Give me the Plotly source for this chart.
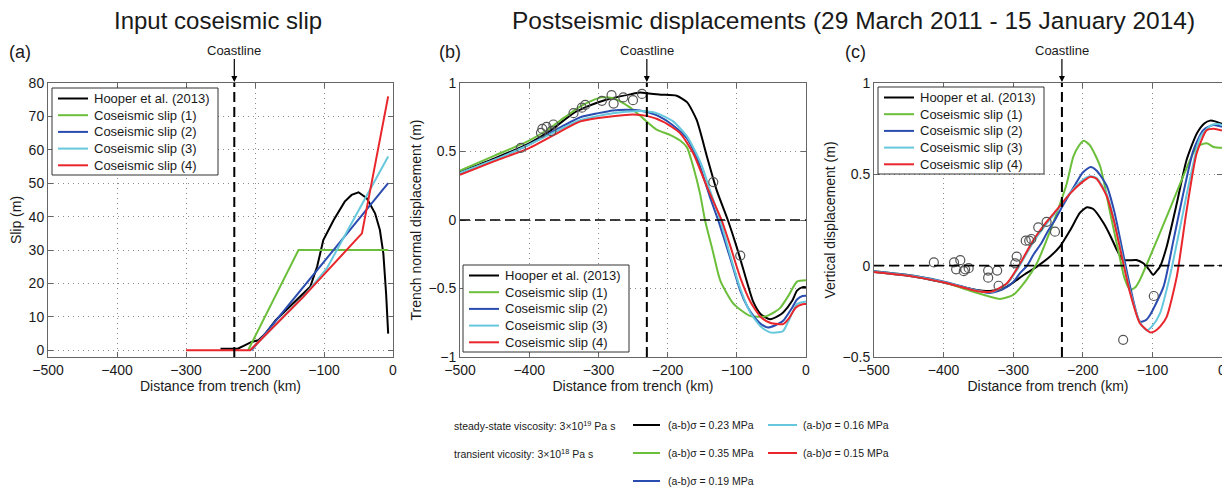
import plotly.graph_objects as go

# ---------------- data ----------------
series_names = ["Hooper et al. (2013)", "Coseismic slip (1)", "Coseismic slip (2)",
                "Coseismic slip (3)", "Coseismic slip (4)"]
series_colors = ["#000000", "#6cbf3b", "#2a4cb0", "#66c8dc", "#e8262b"]
friction_values = ["0.23", "0.35", "0.19", "0.16", "0.15"]  # (a-b)sigma, MPa, same order
coast_km = -230

# (a) input coseismic slip (m)
a_x0 = [-250, -225, -215, -205, -195, -185, -170, -150, -135, -125, -120, -110, -101, -86, -70, -60, -50, -38, -26, -19, -14, -10, -7]
a_y0 = [0.5, 0.5, 1.5, 2.5, 3, 5, 9, 13, 16, 18, 19, 25, 33, 39, 44.5, 46.5, 47.3, 45.5, 41, 36, 29, 17, 5]
a_x1 = [-210, -137, -7]
a_y1 = [0, 30, 30]
a_x2 = [-205, -7]
a_y2 = [0, 50]
a_x3 = [-207, -130, -96, -7]
a_y3 = [0, 16, 24.5, 58]
a_x4 = [-300, -207, -130, -45, -7]
a_y4 = [0, 0, 16, 35, 76]

# (b) trench-normal displacement (m)
b_x0 = [-500, -450, -400, -370, -336, -320, -300, -279, -254, -240, -230, -210, -187, -172, -158, -143, -129, -113, -100, -90, -76, -65, -52, -40, -33, -20, -13, -5, 0]
b_y0 = [0.35, 0.45, 0.56, 0.65, 0.78, 0.82, 0.86, 0.89, 0.917, 0.93, 0.925, 0.915, 0.907, 0.86, 0.73, 0.46, 0.216, 0.0, -0.2, -0.37, -0.6, -0.69, -0.724, -0.70, -0.675, -0.59, -0.516, -0.49, -0.49]
b_x1 = [-500, -450, -400, -375, -350, -326, -310, -295, -280, -270, -254, -235, -216, -196, -182, -172, -163, -153, -146, -135, -124, -105, -81, -60, -45, -37, -25, -13, 0]
b_y1 = [0.36, 0.47, 0.58, 0.655, 0.745, 0.83, 0.87, 0.895, 0.89, 0.87, 0.82, 0.74, 0.66, 0.62, 0.58, 0.53, 0.39, 0.19, 0.0, -0.22, -0.44, -0.61, -0.70, -0.705, -0.67, -0.64, -0.55, -0.45, -0.44]
b_x2 = [-500, -450, -400, -350, -326, -300, -279, -260, -240, -216, -192, -172, -160, -153, -139, -127, -120, -110, -95, -85, -76, -65, -55, -45, -33, -20, -13, -5, 0]
b_y2 = [0.34, 0.44, 0.55, 0.69, 0.75, 0.78, 0.80, 0.805, 0.80, 0.765, 0.69, 0.595, 0.48, 0.39, 0.17, 0.0, -0.11, -0.27, -0.516, -0.63, -0.70, -0.76, -0.785, -0.77, -0.736, -0.64, -0.58, -0.555, -0.553]
b_x3 = [-500, -450, -400, -350, -326, -300, -279, -260, -240, -216, -192, -182, -172, -160, -150, -139, -124, -110, -95, -80, -65, -52, -40, -33, -20, -13, -5, 0]
b_y3 = [0.345, 0.44, 0.55, 0.675, 0.73, 0.76, 0.78, 0.79, 0.795, 0.78, 0.72, 0.67, 0.61, 0.50, 0.39, 0.22, 0.0, -0.25, -0.5, -0.68, -0.78, -0.82, -0.82, -0.81, -0.68, -0.614, -0.6, -0.595]
b_x4 = [-500, -450, -400, -350, -326, -300, -279, -250, -230, -206, -182, -163, -143, -122, -110, -95, -80, -65, -52, -40, -33, -25, -15, -5, 0]
b_y4 = [0.33, 0.43, 0.525, 0.66, 0.72, 0.745, 0.758, 0.77, 0.76, 0.717, 0.634, 0.487, 0.24, 0.0, -0.18, -0.42, -0.6, -0.71, -0.75, -0.76, -0.76, -0.72, -0.64, -0.615, -0.614]
b_obs_x = [-412, -383, -381, -375, -368, -365, -336, -324, -319, -295, -281, -278, -264, -250, -237, -134, -95]
b_obs_y = [0.526, 0.636, 0.665, 0.68, 0.648, 0.697, 0.78, 0.82, 0.84, 0.87, 0.912, 0.85, 0.895, 0.875, 0.92, 0.277, -0.26]

# (c) vertical displacement (m)
c_x0 = [-500, -443, -396, -357, -333, -309, -285, -266, -247, -233, -218, -204, -194, -185, -170, -160, -151, -142, -123, -113, -105, -99, -94, -89, -79.5, -65, -51, -36, -25, -17, -10, 0]
c_y0 = [-0.035, -0.06, -0.096, -0.13, -0.139, -0.115, -0.051, -0.005, 0.05, 0.104, 0.195, 0.29, 0.32, 0.31, 0.232, 0.16, 0.086, 0.031, 0.031, 0.013, -0.02, -0.05, -0.03, -0.005, 0.104, 0.34, 0.577, 0.725, 0.78, 0.794, 0.79, 0.776]
c_x1 = [-500, -443, -400, -360, -333, -319, -300, -281, -266, -252, -237.5, -223, -213.6, -205, -198.6, -190, -175, -160.6, -146, -140, -132, -125, -118, -103.4, -79.5, -55.6, -36.4, -22, -12, 0]
c_y1 = [-0.03, -0.055, -0.09, -0.14, -0.17, -0.182, -0.16, -0.078, 0.013, 0.14, 0.287, 0.45, 0.597, 0.66, 0.684, 0.66, 0.543, 0.287, 0.03, -0.07, -0.133, -0.12, -0.078, 0.05, 0.268, 0.49, 0.65, 0.67, 0.65, 0.645]
c_x2 = [-500, -443, -396, -357, -333, -315, -300, -290, -280, -271, -260, -250, -240, -230, -210, -200, -189, -180, -165.5, -155, -146, -132, -118, -110, -103.4, -84, -69.7, -55.6, -41, -27, -12.6, 0]
c_y2 = [-0.03, -0.055, -0.09, -0.13, -0.15, -0.13, -0.09, -0.04, 0.0, 0.06, 0.12, 0.19, 0.25, 0.32, 0.45, 0.51, 0.54, 0.52, 0.436, 0.3, 0.14, -0.115, -0.306, -0.3, -0.27, -0.115, 0.14, 0.396, 0.633, 0.742, 0.77, 0.76]
c_x3 = [-500, -443, -396, -348, -331, -309, -290, -271, -252, -237.5, -218, -200, -189, -180, -165.5, -155, -146, -132, -118, -108, -100, -89, -75, -60, -45.4, -31, -15, -5, 0]
c_y3 = [-0.033, -0.058, -0.093, -0.14, -0.145, -0.1, 0.005, 0.13, 0.23, 0.3, 0.4, 0.47, 0.49, 0.48, 0.39, 0.25, 0.1, -0.14, -0.31, -0.354, -0.33, -0.26, -0.06, 0.214, 0.487, 0.706, 0.77, 0.775, 0.77]
c_x4 = [-500, -443, -396, -348, -331, -309, -290, -271, -252, -237.5, -218, -200, -189, -180, -165.5, -155, -146, -132, -118, -103.4, -97, -89, -79.5, -65, -50.7, -36.4, -22, -12, 0]
c_y4 = [-0.035, -0.06, -0.095, -0.142, -0.142, -0.096, 0.013, 0.14, 0.24, 0.305, 0.396, 0.46, 0.487, 0.475, 0.38, 0.24, 0.086, -0.15, -0.315, -0.365, -0.36, -0.334, -0.28, -0.06, 0.305, 0.615, 0.742, 0.75, 0.74]
c_obs_x = [-414, -385, -382, -376, -371, -369, -364, -336, -336, -323, -321, -297, -295, -282, -277, -274, -264, -252, -240, -142, -98]
c_obs_y = [0.018, 0.018, -0.02, 0.03, -0.03, -0.02, -0.014, -0.027, -0.066, -0.027, -0.11, 0.013, 0.05, 0.137, 0.137, 0.146, 0.21, 0.24, 0.186, -0.406, -0.166]

a_xs = [a_x0, a_x1, a_x2, a_x3, a_x4]
a_ys = [a_y0, a_y1, a_y2, a_y3, a_y4]
b_xs = [b_x0, b_x1, b_x2, b_x3, b_x4]
b_ys = [b_y0, b_y1, b_y2, b_y3, b_y4]
c_xs = [c_x0, c_x1, c_x2, c_x3, c_x4]
c_ys = [c_y0, c_y1, c_y2, c_y3, c_y4]

# ---------------- figure ----------------
# the page body adds an 8px margin; the figure is sized so it fills the 1230x490 window
OFF = 8
W, H = 1230 - OFF, 490 - OFF
FONT = "Liberation Sans, Arial, sans-serif"
TXT = "#1a1a1a"

fig = go.Figure()

panels = [
    ("x", "y", a_xs, a_ys, "linear"),
    ("x2", "y2", b_xs, b_ys, "spline"),
    ("x3", "y3", c_xs, c_ys, "spline"),
]
for xa, ya, xs, ys, shape in panels:
    for i in range(5):
        line = dict(color=series_colors[i], width=2, shape=shape)
        if shape == "spline":
            line["smoothing"] = 0.6
        fig.add_trace(go.Scatter(x=xs[i], y=ys[i], mode="lines", name=series_names[i],
                                 line=line, xaxis=xa, yaxis=ya, showlegend=False))

for xa, ya, ox, oy in [("x2", "y2", b_obs_x, b_obs_y), ("x3", "y3", c_obs_x, c_obs_y)]:
    fig.add_trace(go.Scatter(x=ox, y=oy, mode="markers", showlegend=False, xaxis=xa, yaxis=ya,
                             name="observed",
                             marker=dict(symbol="circle-open", size=9, color="#555555",
                                         line=dict(width=1.2, color="#555555"))))


def px_x(p):
    return (p - OFF) / W


def px_y(p):
    return 1 - (p - OFF) / H


dom_x = [(48, 393), (460, 806), (874, 1222)]
dom_y = (83, 357)
y_ranges = [[-2, 80], [-1, 1], [-0.5, 1]]
y_ticks = [list(range(0, 81, 10)), [-1, -0.5, 0, 0.5, 1], [-0.5, 0, 0.5, 1]]
y_titles = ["Slip (m)", "Trench normal displacement (m)", "Vertical displacement (m)"]

axis_common = dict(showline=True, linecolor="#666666", linewidth=1, mirror="ticks",
                   ticks="inside", ticklen=5, tickcolor="#666666", automargin=False,
                   showgrid=True, gridcolor="#8c8c8c", griddash="1px,4px", gridwidth=1,
                   zeroline=False, tickfont=dict(family=FONT, size=14, color=TXT))

layout = dict(width=W, height=H, margin=dict(l=0, r=0, t=0, b=0, autoexpand=False),
              paper_bgcolor="white", plot_bgcolor="white", showlegend=False,
              font=dict(family=FONT, color=TXT))
for k in range(3):
    sfx = "" if k == 0 else str(k + 1)
    layout["xaxis" + sfx] = dict(axis_common, domain=[px_x(dom_x[k][0]), px_x(dom_x[k][1])],
                                 range=[-500, 0], tickvals=[-500, -400, -300, -200, -100, 0],
                                 anchor="y" + sfx,
                                 title=dict(text="Distance from trench (km)", standoff=1,
                                            font=dict(family=FONT, size=14, color=TXT)))
    layout["yaxis" + sfx] = dict(axis_common, domain=[px_y(dom_y[1]), px_y(dom_y[0])],
                                 range=y_ranges[k], tickvals=y_ticks[k], anchor="x" + sfx,
                                 title=dict(text=y_titles[k], standoff=3,
                                            font=dict(family=FONT, size=14, color=TXT)))
fig.update_layout(**layout)

shapes = []
annotations = []

# coastline dashed lines and zero lines
for k in range(3):
    sfx = "" if k == 0 else str(k + 1)
    shapes.append(dict(type="line", xref="x" + sfx, yref="y" + sfx + " domain",
                       x0=coast_km, x1=coast_km, y0=0, y1=1,
                       line=dict(color="black", width=2, dash="10px,5px")))
    if k > 0:
        shapes.append(dict(type="line", xref="x" + sfx + " domain", yref="y" + sfx,
                           x0=0, x1=1, y0=0, y1=0,
                           line=dict(color="black", width=1.6, dash="10px,5px")))

# in-panel legends (boxes drawn to match the reference layout)
legend_boxes = [(52, 88), (463, 265), (878, 87)]
for (L, T) in legend_boxes:
    shapes.append(dict(type="rect", xref="paper", yref="paper", x0=px_x(L), x1=px_x(L + 166),
                       y0=px_y(T + 87), y1=px_y(T), line=dict(color="#333333", width=1),
                       fillcolor="white", layer="above"))
    for i in range(5):
        yy = T + 10.5 + i * 16.7
        shapes.append(dict(type="line", xref="paper", yref="paper", x0=px_x(L + 6), x1=px_x(L + 36),
                           y0=px_y(yy), y1=px_y(yy), layer="above",
                           line=dict(color=series_colors[i], width=2)))
        annotations.append(dict(xref="paper", yref="paper", x=px_x(L + 40), y=px_y(yy),
                                text=series_names[i], showarrow=False, xanchor="left",
                                yanchor="middle", font=dict(family=FONT, size=13, color=TXT)))

for k, lab in enumerate(["(a)", "(b)", "(c)"]):
    sfx = "" if k == 0 else str(k + 1)
    annotations.append(dict(xref="x" + sfx, yref="y" + sfx + " domain", x=coast_km, y=1,
                            text="Coastline", showarrow=True, arrowhead=2, arrowsize=1,
                            arrowwidth=1.2, arrowcolor="black", ax=0, ay=-33, standoff=1,
                            font=dict(family=FONT, size=13, color=TXT)))
    annotations.append(dict(xref="paper", yref="paper", x=px_x([20, 450, 855][k]), y=px_y(52),
                            text=lab, showarrow=False, xanchor="center", yanchor="middle",
                            font=dict(family=FONT, size=18, color=TXT)))

annotations.append(dict(xref="paper", yref="paper", x=px_x(218), y=px_y(20), text="Input coseismic slip",
                        showarrow=False, xanchor="center", yanchor="middle",
                        font=dict(family=FONT, size=24, color=TXT)))
annotations.append(dict(xref="paper", yref="paper", x=px_x(853), y=px_y(20),
                        text="Postseismic displacements (29 March 2011 - 15 January 2014)",
                        showarrow=False, xanchor="center", yanchor="middle",
                        font=dict(family=FONT, size=24.5, color=TXT)))

# bottom legend (model parameters)
small = dict(family=FONT, size=10.5, color=TXT)
annotations.append(dict(xref="paper", yref="paper", x=px_x(452), y=px_y(425),
                        text="steady-state viscosity: 3\u00d710<sup>19</sup> Pa s", showarrow=False,
                        xanchor="left", yanchor="middle", font=small))
annotations.append(dict(xref="paper", yref="paper", x=px_x(452), y=px_y(453),
                        text="transient vicosity: 3\u00d710<sup>18</sup> Pa s", showarrow=False,
                        xanchor="left", yanchor="middle", font=small))
row_y = [425, 453, 481]
col_x = [(633, 660, 666), (768, 797, 801)]
for i, val in enumerate(friction_values):
    col = 0 if i < 3 else 1
    row = i if i < 3 else i - 3
    x0, x1, xt = col_x[col]
    yy = row_y[row]
    shapes.append(dict(type="line", xref="paper", yref="paper", x0=px_x(x0), x1=px_x(x1),
                       y0=px_y(yy), y1=px_y(yy), line=dict(color=series_colors[i], width=2)))
    annotations.append(dict(xref="paper", yref="paper", x=px_x(xt), y=px_y(yy),
                            text="(a-b)\u03c3 = " + val + " MPa", showarrow=False,
                            xanchor="left", yanchor="middle", font=small))

fig.update_layout(shapes=shapes, annotations=annotations)
fig.write_html("out.html")
